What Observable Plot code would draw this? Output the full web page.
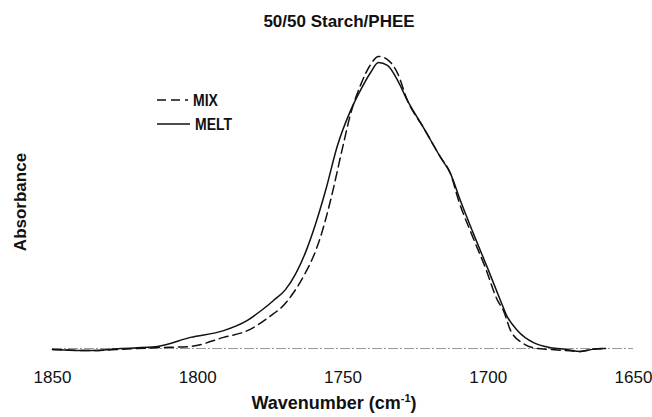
<!DOCTYPE html>
<html>
<head>
<meta charset="utf-8">
<script src="https://cdn.jsdelivr.net/npm/d3@7"></script>
<script src="https://cdn.jsdelivr.net/npm/@observablehq/plot@0.6"></script>
<style>
  body { margin: 0; background: #fff; }
  #wrap { position: relative; width: 652px; height: 417px; font-family: "Liberation Sans", Arial, sans-serif; color: #111; }
  #title { position: absolute; top: 12px; left: 339px; transform: translateX(-50%); font-weight: bold; font-size: 17px; white-space: nowrap; }
  #chart { position: absolute; top: 34px; left: 0; }
  #xlabel { position: absolute; top: 392px; left: 334px; transform: translateX(-50%); font-weight: bold; font-size: 18px; white-space: nowrap; }
  #xlabel sup { font-size: 11px; vertical-align: 7px; }
  .leg { position: absolute; left: 157px; display: flex; align-items: center; font-weight: bold; font-size: 14px; }
  .leg span { display: inline-block; transform: scale(1, 1.2); margin-left: 5px; }
</style>
</head>
<body>
<div id="wrap">
  <div id="title">50/50 Starch/PHEE</div>
  <div id="chart"></div>
  <div id="xlabel">Wavenumber (cm<sup>-1</sup>)</div>
  <div class="leg" style="top:92px"><svg width="31" height="4"><line x1="0" y1="2" x2="31" y2="2" stroke="#111" stroke-width="1.5" stroke-dasharray="9,5"/></svg><span>MIX</span></div>
  <div class="leg" style="top:116px"><svg width="33" height="4"><line x1="0" y1="2" x2="33" y2="2" stroke="#111" stroke-width="1.5"/></svg><span>MELT</span></div>
</div>
<script>
const seriesNames = ["MIX", "MELT"];
const xTicks = [1850, 1800, 1750, 1700, 1650];

const mixWavenumber = [1850.0, 1836.9, 1826.6, 1813.9, 1802.5, 1791.1, 1782.9, 1773.9, 1771.5, 1767.0, 1762.9, 1760.5, 1757.7, 1754.3, 1750.2, 1747.4, 1744.0, 1740.5, 1737.8, 1734.7, 1731.2, 1727.8, 1722.3, 1716.4, 1713.0, 1710.2, 1705.8, 1701.0, 1696.8, 1694.8, 1692.3, 1687.9, 1683.0, 1678.6, 1673.4, 1668.2, 1664.1, 1659.6];
const mixAbsorbance = [-0.003, -0.007, -0.003, 0.003, 0.007, 0.038, 0.061, 0.119, 0.137, 0.191, 0.259, 0.307, 0.382, 0.505, 0.683, 0.800, 0.898, 0.969, 0.997, 0.986, 0.939, 0.846, 0.754, 0.652, 0.597, 0.505, 0.392, 0.276, 0.164, 0.130, 0.061, 0.017, 0.000, -0.003, -0.007, -0.010, -0.003, 0.000];

const meltWavenumber = [1850.0, 1836.9, 1826.6, 1813.9, 1802.5, 1791.1, 1782.9, 1777.7, 1773.9, 1769.8, 1766.4, 1762.9, 1759.5, 1756.0, 1751.9, 1747.4, 1744.0, 1740.5, 1737.8, 1734.7, 1731.2, 1727.8, 1722.3, 1716.4, 1713.0, 1709.6, 1705.1, 1700.3, 1695.8, 1693.7, 1689.9, 1684.4, 1678.6, 1673.4, 1668.2, 1664.1, 1661.4, 1659.6];
const meltAbsorbance = [-0.003, -0.007, 0.000, 0.007, 0.038, 0.061, 0.096, 0.133, 0.164, 0.201, 0.253, 0.328, 0.423, 0.539, 0.693, 0.812, 0.881, 0.942, 0.976, 0.966, 0.915, 0.846, 0.754, 0.652, 0.597, 0.505, 0.392, 0.276, 0.164, 0.113, 0.061, 0.020, 0.003, -0.003, -0.010, -0.003, 0.000, 0.000];

const mix = mixWavenumber.map((w, i) => ({w, a: mixAbsorbance[i], s: seriesNames[0]}));
const melt = meltWavenumber.map((w, i) => ({w, a: meltAbsorbance[i], s: seriesNames[1]}));

const chart = Plot.plot({
  width: 652,
  height: 355,
  marginLeft: 52,
  marginRight: 19,
  marginTop: 21,
  marginBottom: 41,
  style: {fontFamily: "'Liberation Sans', Arial, sans-serif", fontSize: "17px", color: "#111", background: "#fff"},
  x: {domain: [1850, 1650], ticks: xTicks, tickFormat: d => String(d), tickSize: 0, tickPadding: 22, label: null},
  y: {domain: [0, 1], axis: null},
  marks: [
    Plot.ruleY([0], {stroke: "#999", strokeWidth: 1, strokeDasharray: "10,2,2,2"}),
    Plot.line(melt, {x: "w", y: "a", stroke: "#111", strokeWidth: 1.5, curve: "monotone-x"}),
    Plot.line(mix, {x: "w", y: "a", stroke: "#111", strokeWidth: 1.5, strokeDasharray: "9,5", curve: "monotone-x"}),
    Plot.text(["Absorbance"], {frameAnchor: "left", textAnchor: "middle", dx: -32, rotate: -90, fontWeight: "bold", fontSize: 17, fill: "#111"})
  ]
});
document.getElementById("chart").appendChild(chart);
</script>
</body>
</html>
